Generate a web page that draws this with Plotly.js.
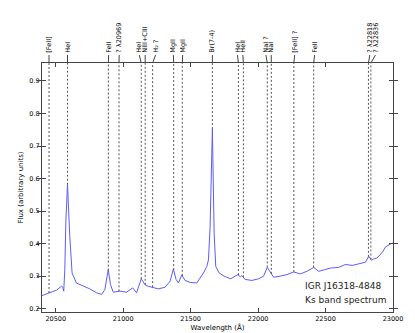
<!DOCTYPE html>
<html>
<head>
<meta charset="utf-8">
<script src="https://cdn.plot.ly/plotly-3.0.1.min.js"></script>
<style>
  html, body { margin: 0; padding: 0; background: #fff; }
  #plot { width: 415px; height: 333px; }
</style>
</head>
<body>
<div id="plot"></div>
<script>
// spettro (lunghezza d'onda in Angstrom, flusso arbitrario)
var wave = [20396, 20455, 20505, 20542, 20553, 20559, 20567, 20575, 20587, 20604,
            20621, 20653, 20703, 20753, 20802, 20840, 20864, 20889, 20906, 20926,
            20975, 21025, 21070, 21099, 21134, 21161, 21186, 21223, 21260, 21310,
            21347, 21372, 21392, 21409, 21434, 21458, 21496, 21545, 21595, 21620,
            21632, 21644, 21661, 21674, 21686, 21711, 21748, 21798, 21850, 21868,
            21880, 21904, 21954, 22003, 22040, 22068, 22090, 22115, 22164, 22214,
            22263, 22313, 22362, 22412, 22449, 22474, 22493, 22536, 22597, 22647,
            22697, 22746, 22796, 22820, 22840, 22857, 22882, 22920, 22945, 22982,
            23000];
var flux = [0.240, 0.249, 0.257, 0.269, 0.266, 0.254, 0.320, 0.470, 0.581, 0.422,
            0.310, 0.279, 0.271, 0.261, 0.249, 0.244, 0.259, 0.320, 0.274, 0.251,
            0.254, 0.251, 0.264, 0.249, 0.292, 0.274, 0.269, 0.266, 0.261, 0.266,
            0.284, 0.322, 0.290, 0.279, 0.304, 0.287, 0.281, 0.279, 0.310, 0.330,
            0.350, 0.450, 0.752, 0.433, 0.330, 0.310, 0.300, 0.292, 0.305, 0.298,
            0.302, 0.290, 0.287, 0.292, 0.300, 0.327, 0.312, 0.297, 0.300, 0.305,
            0.313, 0.307, 0.315, 0.327, 0.315, 0.317, 0.320, 0.325, 0.327, 0.336,
            0.333, 0.338, 0.343, 0.361, 0.349, 0.353, 0.356, 0.373, 0.390, 0.399,
            0.402];

// righe identificate
var lineWave  = [20450, 20587, 20890, 20969, 21134, 21163, 21218, 21374, 21438, 21661,
                 21854, 21891, 22068, 22098, 22265, 22412, 22818, 22836];
var labelWave = [20450, 20587, 20892, 20970, 21119, 21163, 21240, 21372, 21441, 21661,
                 21847, 21887, 22058, 22097, 22271, 22419, 22828, 22870];
var lineLabel = ['[FeII]', 'HeI', 'FeII', '? \u03bb20969', 'HeI', 'NIII+CIII', 'H\u2082 ?',
                 'MgII', 'MgII', 'Br(7-4)', 'HeI', 'HeII', 'NaI ?', 'NaI', '[FeII] ?', 'FeII',
                 '? \u03bb22818', '? \u03bb22836'];

var xTicks = [20500, 21000, 21500, 22000, 22500, 23000];
var yTicks = [0.2, 0.3, 0.4, 0.5, 0.6, 0.7, 0.8, 0.9];

var xRange = [20398, 23000];
var yRange = [0.19, 0.955];

function fluxAt(w) {
    for (var i = 1; i < wave.length; i++) {
        if (w <= wave[i]) {
            var t = (w - wave[i - 1]) / (wave[i] - wave[i - 1]);
            return flux[i - 1] + t * (flux[i] - flux[i - 1]);
        }
    }
    return flux[flux.length - 1];
}

var shapes = [];
var annotations = [];
var stem = 0.032;

lineWave.forEach(function (w, i) {
    // linea tratteggiata dal bordo superiore allo spettro
    shapes.push({
        type: 'line', xref: 'x', yref: 'y',
        x0: w, x1: w, y0: fluxAt(w), y1: yRange[1],
        line: { color: '#555', width: 1, dash: '2px,2px' }
    });
    // trattino sopra l'asse verso l'etichetta
    shapes.push({
        type: 'line', xref: 'x', yref: 'paper',
        x0: w, x1: labelWave[i], y0: 1, y1: 1 + stem,
        line: { color: '#444', width: 1 }
    });
});

annotations.push({
    x: 0.744, y: 0.104, xref: 'paper', yref: 'paper',
    text: 'IGR J16318-4848', showarrow: false, xanchor: 'left', yanchor: 'middle',
    font: { family: 'DejaVu Sans', size: 9, color: '#222' }
});
annotations.push({
    x: 0.744, y: 0.048, xref: 'paper', yref: 'paper',
    text: 'Ks band spectrum', showarrow: false, xanchor: 'left', yanchor: 'middle',
    font: { family: 'DejaVu Sans', size: 9, color: '#222' }
});

var trace = {
    x: wave, y: flux, type: 'scatter', mode: 'lines',
    line: { color: '#5c5cff', width: 1 },
    hoverinfo: 'skip'
};

// traccia vuota per l'asse delle etichette in alto
var labelTrace = {
    x: labelWave, y: labelWave.map(function () { return null; }),
    xaxis: 'x2', yaxis: 'y', type: 'scatter', mode: 'lines',
    hoverinfo: 'skip', showlegend: false
};

var layout = {
    width: 415, height: 333,
    margin: { l: 42, r: 22, t: 63, b: 21 },
    paper_bgcolor: '#fff', plot_bgcolor: '#fff',
    showlegend: false,
    font: { family: 'DejaVu Sans', size: 7, color: '#000' },
    xaxis: {
        range: xRange, tickvals: xTicks, ticktext: xTicks.map(String),
        ticks: 'inside', ticklen: 4, tickcolor: '#444',
        showline: true, linecolor: '#444', linewidth: 1, mirror: 'allticks',
        showgrid: false, zeroline: false,
        tickfont: { size: 6.5 },
        title: { text: 'Wavelength (\u00c5)', font: { size: 7 }, standoff: 1 }
    },
    xaxis2: {
        overlaying: 'x', side: 'top', anchor: 'y',
        range: xRange, tickmode: 'array', tickvals: labelWave, ticktext: lineLabel,
        tickangle: -90, ticks: 'outside', ticklen: 8, tickcolor: 'rgba(0,0,0,0)',
        showline: false, showgrid: false, zeroline: false,
        tickfont: { family: 'DejaVu Sans', size: 6.5, color: '#000' }
    },
    yaxis: {
        range: yRange, tickvals: yTicks, ticktext: yTicks.map(function (v) { return v.toFixed(1); }),
        ticks: 'inside', ticklen: 4, tickcolor: '#444',
        showline: true, linewidth: 1, linecolor: '#444', mirror: 'allticks',
        showgrid: false, zeroline: false,
        tickfont: { size: 6.5 },
        title: { text: 'Flux (arbitrary units)', font: { size: 7 }, standoff: 4 }
    },
    shapes: shapes,
    annotations: annotations
};

Plotly.newPlot('plot', [trace, labelTrace], layout, { displayModeBar: false, staticPlot: true });
</script>
</body>
</html>
